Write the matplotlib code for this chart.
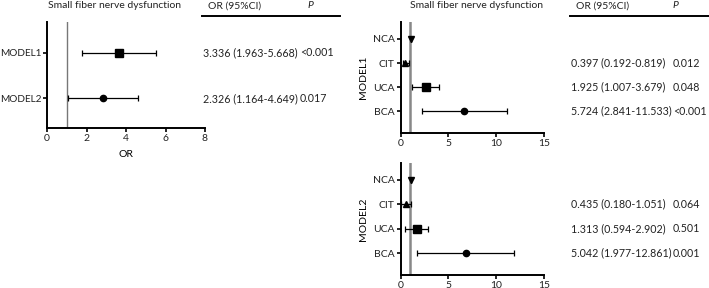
import matplotlib.pyplot as plt
import matplotlib.transforms as mtransforms

plt.rcParams['font.family'] = ['Lato', 'DejaVu Sans']
plt.rcParams['font.size'] = 7.5
plt.rcParams['text.color'] = '#222222'

W, H = 709, 288

# left panel: overall models
models = ['MODEL1', 'MODEL2']
model_or = [3.65, 2.82]
model_lo = [1.76, 1.08]
model_hi = [5.5, 4.59]
model_mk = ['s', 'o']
model_txt = ['3.336 (1.963-5.668)', '2.326 (1.164-4.649)']
model_p = ['<0.001', '0.017']

# right panels: groups
groups = ['NCA', 'CIT', 'UCA', 'BCA']
group_mk = ['v', '^', 's', 'o']
m1_or = [1.05, 0.5, 2.65, 6.66]
m1_lo = [1.05, 0.19, 1.15, 2.2]
m1_hi = [1.05, 0.82, 4.05, 11.1]
m1_txt = ['', '0.397 (0.192-0.819)', '1.925 (1.007-3.679)', '5.724 (2.841-11.533)']
m1_p = ['', '0.012', '0.048', '<0.001']
m2_or = [1.05, 0.6, 1.67, 6.84]
m2_lo = [1.05, 0.05, 0.45, 1.68]
m2_hi = [1.05, 1.1, 2.9, 11.9]
m2_txt = ['', '0.435 (0.180-1.051)', '1.313 (0.594-2.902)', '5.042 (1.977-12.861)']
m2_p = ['', '0.064', '0.501', '0.001']

TS = 7.7  # table text size


def box(x0, x1, top, bottom):
    return [x0 / W, 1 - bottom / H, (x1 - x0) / W, (bottom - top) / H]


def style(ax):
    for s in ['top', 'right']:
        ax.spines[s].set_visible(False)
    for s in ['left', 'bottom']:
        ax.spines[s].set_linewidth(1.4)
    ax.tick_params(width=1.2, length=3, pad=1.5, labelcolor='#222222')


def forest(ax, y, ors, lo, hi, mks, ms):
    for i in range(len(y)):
        ax.errorbar(ors[i], y[i], xerr=[[ors[i] - lo[i]], [hi[i] - ors[i]]],
                    fmt=mks[i], color='black', ms=ms[i], elinewidth=0.9,
                    capsize=2.5, capthick=0.9)


fig = plt.figure(figsize=(W / 100, H / 100), dpi=100)

# ---- left panel
ax = fig.add_axes(box(47, 205, 22, 128))
style(ax)
ax.tick_params(axis='y', pad=1)
ypos = [1, 2]
ax.axvline(1, color='#777777', lw=1.0, zorder=0)
forest(ax, ypos, model_or, model_lo, model_hi, model_mk, [5.5, 4.5])
ax.set_xlim(0, 8)
ax.set_xticks([0, 2, 4, 6, 8])
ax.set_ylim(2.65, 0.32)
ax.set_yticks(ypos)
ax.set_yticklabels(models, fontsize=7.2)
ax.set_xlabel('OR', labelpad=5)
fig.text(115 / W, 1 - 6 / H, 'Small fiber nerve dysfunction', ha='center', va='center')
fig.text(235 / W, 1 - 6 / H, 'OR (95%CI)', ha='center', va='center')
fig.text(310 / W, 1 - 6 / H, 'P', ha='center', va='center', style='italic')
fig.add_artist(plt.Line2D([202 / W, 340 / W], [1 - 16 / H] * 2, color='black', lw=1.4))
tr = mtransforms.blended_transform_factory(fig.transFigure, ax.transData)
for i in range(len(models)):
    ax.text(203 / W, ypos[i], model_txt[i], transform=tr, va='center', fontsize=TS)
    ax.text(300 / W, ypos[i], model_p[i], transform=tr, va='center', fontsize=TS)

# ---- right panels
fig.text(477 / W, 1 - 6 / H, 'Small fiber nerve dysfunction', ha='center', va='center')
fig.text(603 / W, 1 - 6 / H, 'OR (95%CI)', ha='center', va='center')
fig.text(675 / W, 1 - 6 / H, 'P', ha='center', va='center', style='italic')
fig.add_artist(plt.Line2D([570 / W, 709 / W], [1 - 16 / H] * 2, color='black', lw=1.4))

gy = [0, 1, 2, 3]
panels = [
    (22, 133, 'MODEL1', m1_or, m1_lo, m1_hi, m1_txt, m1_p),
    (162.7, 275, 'MODEL2', m2_or, m2_lo, m2_hi, m2_txt, m2_p),
]
for top, bottom, name, ors, lo, hi, txt, p in panels:
    ax = fig.add_axes(box(400.7, 544, top, bottom))
    style(ax)
    ax.axvline(1, color='#888888', lw=1.8, zorder=0)
    forest(ax, gy, ors, lo, hi, group_mk, [4, 4, 5.5, 4.5])
    ax.set_xlim(0, 15)
    ax.set_xticks([0, 5, 10, 15])
    ax.set_ylim(3.9, -0.7)
    ax.set_yticks(gy)
    ax.set_yticklabels(groups)
    ax.set_ylabel(name, labelpad=3)
    tr = mtransforms.blended_transform_factory(fig.transFigure, ax.transData)
    for i in range(len(groups)):
        if txt[i]:
            ax.text(571 / W, gy[i], txt[i], transform=tr, va='center', fontsize=TS)
            ax.text(673 / W, gy[i], p[i], transform=tr, va='center', fontsize=TS)

fig.savefig('out.png', dpi=100)
